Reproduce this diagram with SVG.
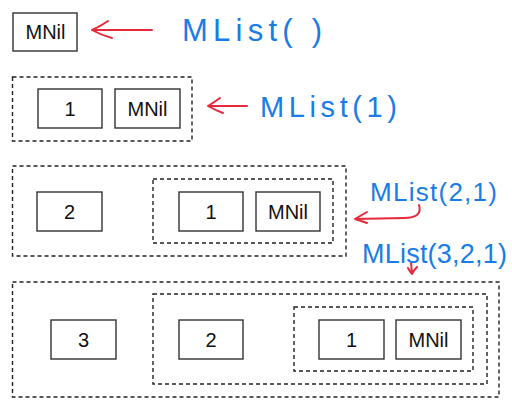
<svg xmlns="http://www.w3.org/2000/svg" width="512" height="410" viewBox="0 0 512 410">
<style>
.box{fill:#fff;stroke:#333;stroke-width:1.4}
.dash{fill:none;stroke:#222;stroke-width:1.4;stroke-dasharray:4 3}
.t{font-family:"Liberation Sans","Arial",sans-serif;font-size:20px;fill:#111;text-anchor:middle}
.hw{font-family:"Liberation Sans","DejaVu Sans",sans-serif;fill:#1a7ce6}
.red{fill:none;stroke:#e8283c;stroke-width:2;stroke-linecap:round;stroke-linejoin:round}
</style>
<rect width="512" height="410" fill="#fff"/>
<g id="row1">
<g id="n1-mnil"><rect class="box" x="13" y="13" width="64" height="38"/><text class="t" x="45.5" y="38.5">MNil</text></g>
</g>
<g id="row2">
<rect id="c2" class="dash" x="12.5" y="77" width="179.5" height="64"/>
<g id="n2-1"><rect class="box" x="38" y="89" width="64" height="39"/><text class="t" x="70" y="115.5">1</text></g>
<g id="n2-mnil"><rect class="box" x="115" y="89" width="65" height="39"/><text class="t" x="147.5" y="115.5">MNil</text></g>
</g>
<g id="row3">
<rect id="c3a" class="dash" x="12.5" y="166" width="333.5" height="90"/>
<rect id="c3b" class="dash" x="153" y="179" width="180" height="64"/>
<g id="n3-2"><rect class="box" x="37" y="192" width="65" height="39"/><text class="t" x="69.5" y="218.5">2</text></g>
<g id="n3-1"><rect class="box" x="179" y="192" width="64" height="39"/><text class="t" x="211" y="218.5">1</text></g>
<g id="n3-mnil"><rect class="box" x="256" y="192" width="64" height="39"/><text class="t" x="288" y="218.5">MNil</text></g>
</g>
<g id="row4">
<rect id="c4a" class="dash" x="12.5" y="282" width="486.5" height="115"/>
<rect id="c4b" class="dash" x="153" y="294" width="334" height="90"/>
<rect id="c4c" class="dash" x="294" y="307" width="179" height="64"/>
<g id="n4-3"><rect class="box" x="51" y="320" width="65" height="39"/><text class="t" x="83.5" y="346.5">3</text></g>
<g id="n4-2"><rect class="box" x="179" y="320" width="64" height="39"/><text class="t" x="211" y="346.5">2</text></g>
<g id="n4-1"><rect class="box" x="319" y="320" width="65" height="39"/><text class="t" x="351.5" y="346.5">1</text></g>
<g id="n4-mnil"><rect class="box" x="396" y="320" width="65" height="39"/><text class="t" x="428.5" y="346.5">MNil</text></g>
</g>
<g id="connectors">
<path class="red" d="M152,30 L92,30 M108,21 Q99,27 92,30 Q101,35 112,38"/>
<path class="red" d="M247,106 L208,106 M220,98 Q213,103 208,106 Q215,110 223,113"/>
<path class="red" d="M419,205 Q423,218 404,218 L355,219 M367,212 Q360,216 355,219 Q361,221 367,223"/>
<path class="red" d="M411,262 L412,274 M408,268 Q410,272 412,274 Q414,270 417,267"/>
</g>
<g id="labels">
<text class="hw" x="182" y="41" font-size="31" textLength="140" lengthAdjust="spacing">MList( )</text>
<text class="hw" x="260" y="117" font-size="29" textLength="137" lengthAdjust="spacing">MList(1)</text>
<text class="hw" x="370" y="201" font-size="26" textLength="127" lengthAdjust="spacing">MList(2,1)</text>
<text class="hw" x="362" y="263" font-size="27" textLength="145" lengthAdjust="spacing">MList(3,2,1)</text>
</g>
</svg>
